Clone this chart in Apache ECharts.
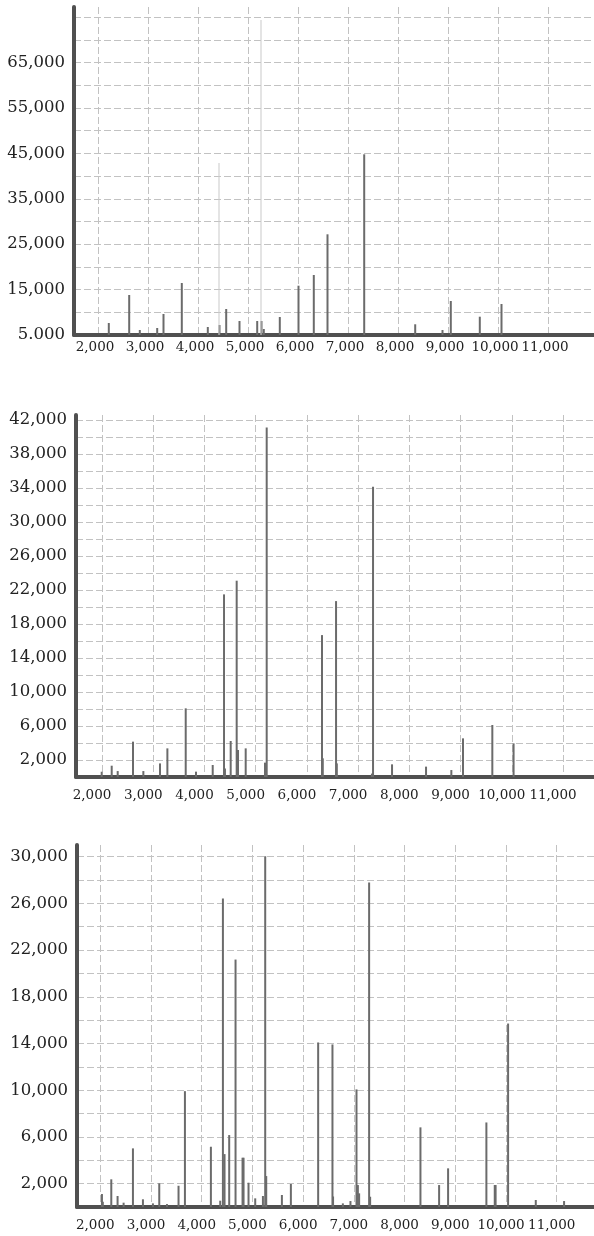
<!DOCTYPE html>
<html><head><meta charset="utf-8">
<script src="https://cdn.jsdelivr.net/npm/echarts@6/dist/echarts.min.js"></script>
<style>html,body{margin:0;padding:0;background:#fff}#c{width:594px;height:1236px}</style>
</head><body><div id="c"></div>
<script>
// ---- shared x ticks ----
const xTicks = [2000, 3000, 4000, 5000, 6000, 7000, 8000, 9000, 10000, 11000];

// ---- panel 1 ----
const p1Pos = [2206, 2614, 2826, 3174, 3300, 3666, 4186, 4420, 4554, 4820, 5174, 5260, 5306, 5626, 6000, 6306, 6580, 7314, 8334, 8880, 9046, 9626, 10060];
const p1Val = [7640, 13810, 6100, 6540, 9630, 16450, 6760, 7200, 10730, 8080, 8080, 8080, 6320, 8960, 15860, 18220, 27180, 44800, 7360, 6100, 12490, 9030, 11830];
const p1FaintPos = [4420, 5260];
const p1FaintVal = [42900, 74400];
const p1YGrid = [5000, 10000, 15000, 20000, 25000, 30000, 35000, 40000, 45000, 50000, 55000, 60000, 65000, 70000, 75000];
const p1YLabels = [5000, 15000, 25000, 35000, 45000, 55000, 65000];
const p1YText = ['5.000', '15,000', '25,000', '35,000', '45,000', '55,000', '65,000'];

// ---- panel 2 ----
const p2Pos = [1994, 2189, 2306, 2605, 2807, 3132, 3276, 3634, 3835, 4161, 4382, 4400, 4512, 4629, 4655, 4805, 5182, 5215, 6295, 6310, 6569, 6584, 7270, 7291, 7662, 8326, 8820, 9048, 9620, 10035];
const p2Val = [620, 1330, 700, 4160, 700, 1600, 3370, 8080, 630, 1410, 21490, 1000, 4240, 23100, 3180, 3370, 1690, 41140, 16700, 2200, 20700, 1600, 400, 34160, 1490, 1220, 820, 4550, 6120, 3960];
const p2YGrid = [2000, 4000, 6000, 8000, 10000, 12000, 14000, 16000, 18000, 20000, 22000, 24000, 26000, 28000, 30000, 32000, 34000, 36000, 38000, 40000, 42000];
const p2YLabels = [2000, 6000, 10000, 14000, 18000, 22000, 26000, 30000, 34000, 38000, 42000];
const p2YText = ['2,000', '6,000', '10,000', '14,000', '18,000', '22,000', '26,000', '30,000', '34,000', '38,000', '42,000'];

// ---- panel 3 ----
const p3Pos = [2033, 2050, 2217, 2341, 2460, 2644, 2841, 3038, 3163, 3315, 3543, 3669, 4181, 4365, 4418, 4450, 4542, 4667, 4805, 4825, 4923, 5055, 5207, 5252, 5272, 5581, 5758, 6296, 6578, 6590, 6783, 6933, 7052, 7079, 7104, 7301, 7321, 8313, 8681, 8858, 9613, 9778, 9795, 10041, 10587, 11145];
const p3Val = [1110, 450, 2370, 940, 370, 5020, 660, 310, 2030, 250, 1820, 9920, 5160, 540, 26410, 4530, 6160, 21190, 4220, 4220, 2080, 740, 940, 30030, 2650, 1030, 1970, 14090, 13920, 900, 310, 510, 10070, 1880, 1170, 27780, 880, 6820, 1880, 3310, 7240, 1880, 1880, 15710, 600, 510];
const p3YGrid = [2000, 4000, 6000, 8000, 10000, 12000, 14000, 16000, 18000, 20000, 22000, 24000, 26000, 28000, 30000];
const p3YLabels = [2000, 6000, 10000, 14000, 18000, 22000, 26000, 30000];
const p3YText = ['2,000', '6,000', '10,000', '14,000', '18,000', '22,000', '26,000', '30,000'];

const FONT = 'DejaVu Serif';
const GRID_LINE = { show: true, lineStyle: { color: '#c2c2c2', width: 1, type: [7, 3] } };
const AXIS_LINE = { show: true, onZero: false, lineStyle: { color: '#505050', width: 4 } };

function pairs(pos, val) { return pos.map((x, i) => [x, val[i]]); }
function fmtX(v) { return Number(v).toLocaleString('en-US'); }
function mapFmt(vals, texts) { return v => { const i = vals.indexOf(Math.round(v)); return i >= 0 ? texts[i] : ''; }; }

function xAxis(idx, min, max, shift, margin) {
  return {
    type: 'value', gridIndex: idx, min: min, max: max,
    axisLine: AXIS_LINE,
    axisTick: { show: false, customValues: xTicks },
    splitLine: GRID_LINE,
    axisLabel: { customValues: xTicks, formatter: fmtX, fontFamily: FONT, fontSize: 13.5, color: '#222', margin: margin, padding: [0, shift * 2, 0, 0] }
  };
}
function yAxis(idx, min, max, grid, labels, texts, padTop) {
  return {
    type: 'value', gridIndex: idx, min: min, max: max,
    axisLine: AXIS_LINE,
    axisTick: { show: false, customValues: grid },
    splitLine: GRID_LINE,
    axisLabel: { customValues: labels, formatter: mapFmt(labels, texts), fontFamily: FONT, fontSize: 16.5, color: '#222', margin: 9, padding: [padTop, 0, 0, 0] }
  };
}
function barSeries(idx, data, color, width) {
  return { type: 'bar', xAxisIndex: idx, yAxisIndex: idx, data: data, barWidth: width, barGap: '-100%', itemStyle: { color: color }, silent: true, z: 3 };
}

const chart = echarts.init(document.getElementById('c'), null, { renderer: 'canvas' });
chart.setOption({
  animation: false,
  backgroundColor: '#fff',
  grid: [
    { left: 74, top: 7, width: 520, height: 328, outerBoundsMode: 'none' },
    { left: 76, top: 415, width: 518, height: 362, outerBoundsMode: 'none' },
    { left: 77, top: 845, width: 517, height: 362, outerBoundsMode: 'none' }
  ],
  xAxis: [
    xAxis(0, 1520, 11920, 3, 5),
    xAxis(1, 1492, 11605, 10, 11),
    xAxis(2, 1541, 11735, 5, 11)
  ],
  yAxis: [
    yAxis(0, 5000, 77250, p1YGrid, p1YLabels, p1YText, 0),
    yAxis(1, 0, 42600, p2YGrid, p2YLabels, p2YText, 5),
    yAxis(2, 0, 31000, p3YGrid, p3YLabels, p3YText, 0)
  ],
  series: [
    barSeries(0, pairs(p1Pos, p1Val), '#6b6b6b', 2),
    barSeries(0, pairs(p1FaintPos, p1FaintVal), '#c9c9c9', 1),
    barSeries(1, pairs(p2Pos, p2Val), '#6b6b6b', 2),
    barSeries(2, pairs(p3Pos, p3Val), '#6b6b6b', 2)
  ]
});
</script></body></html>
